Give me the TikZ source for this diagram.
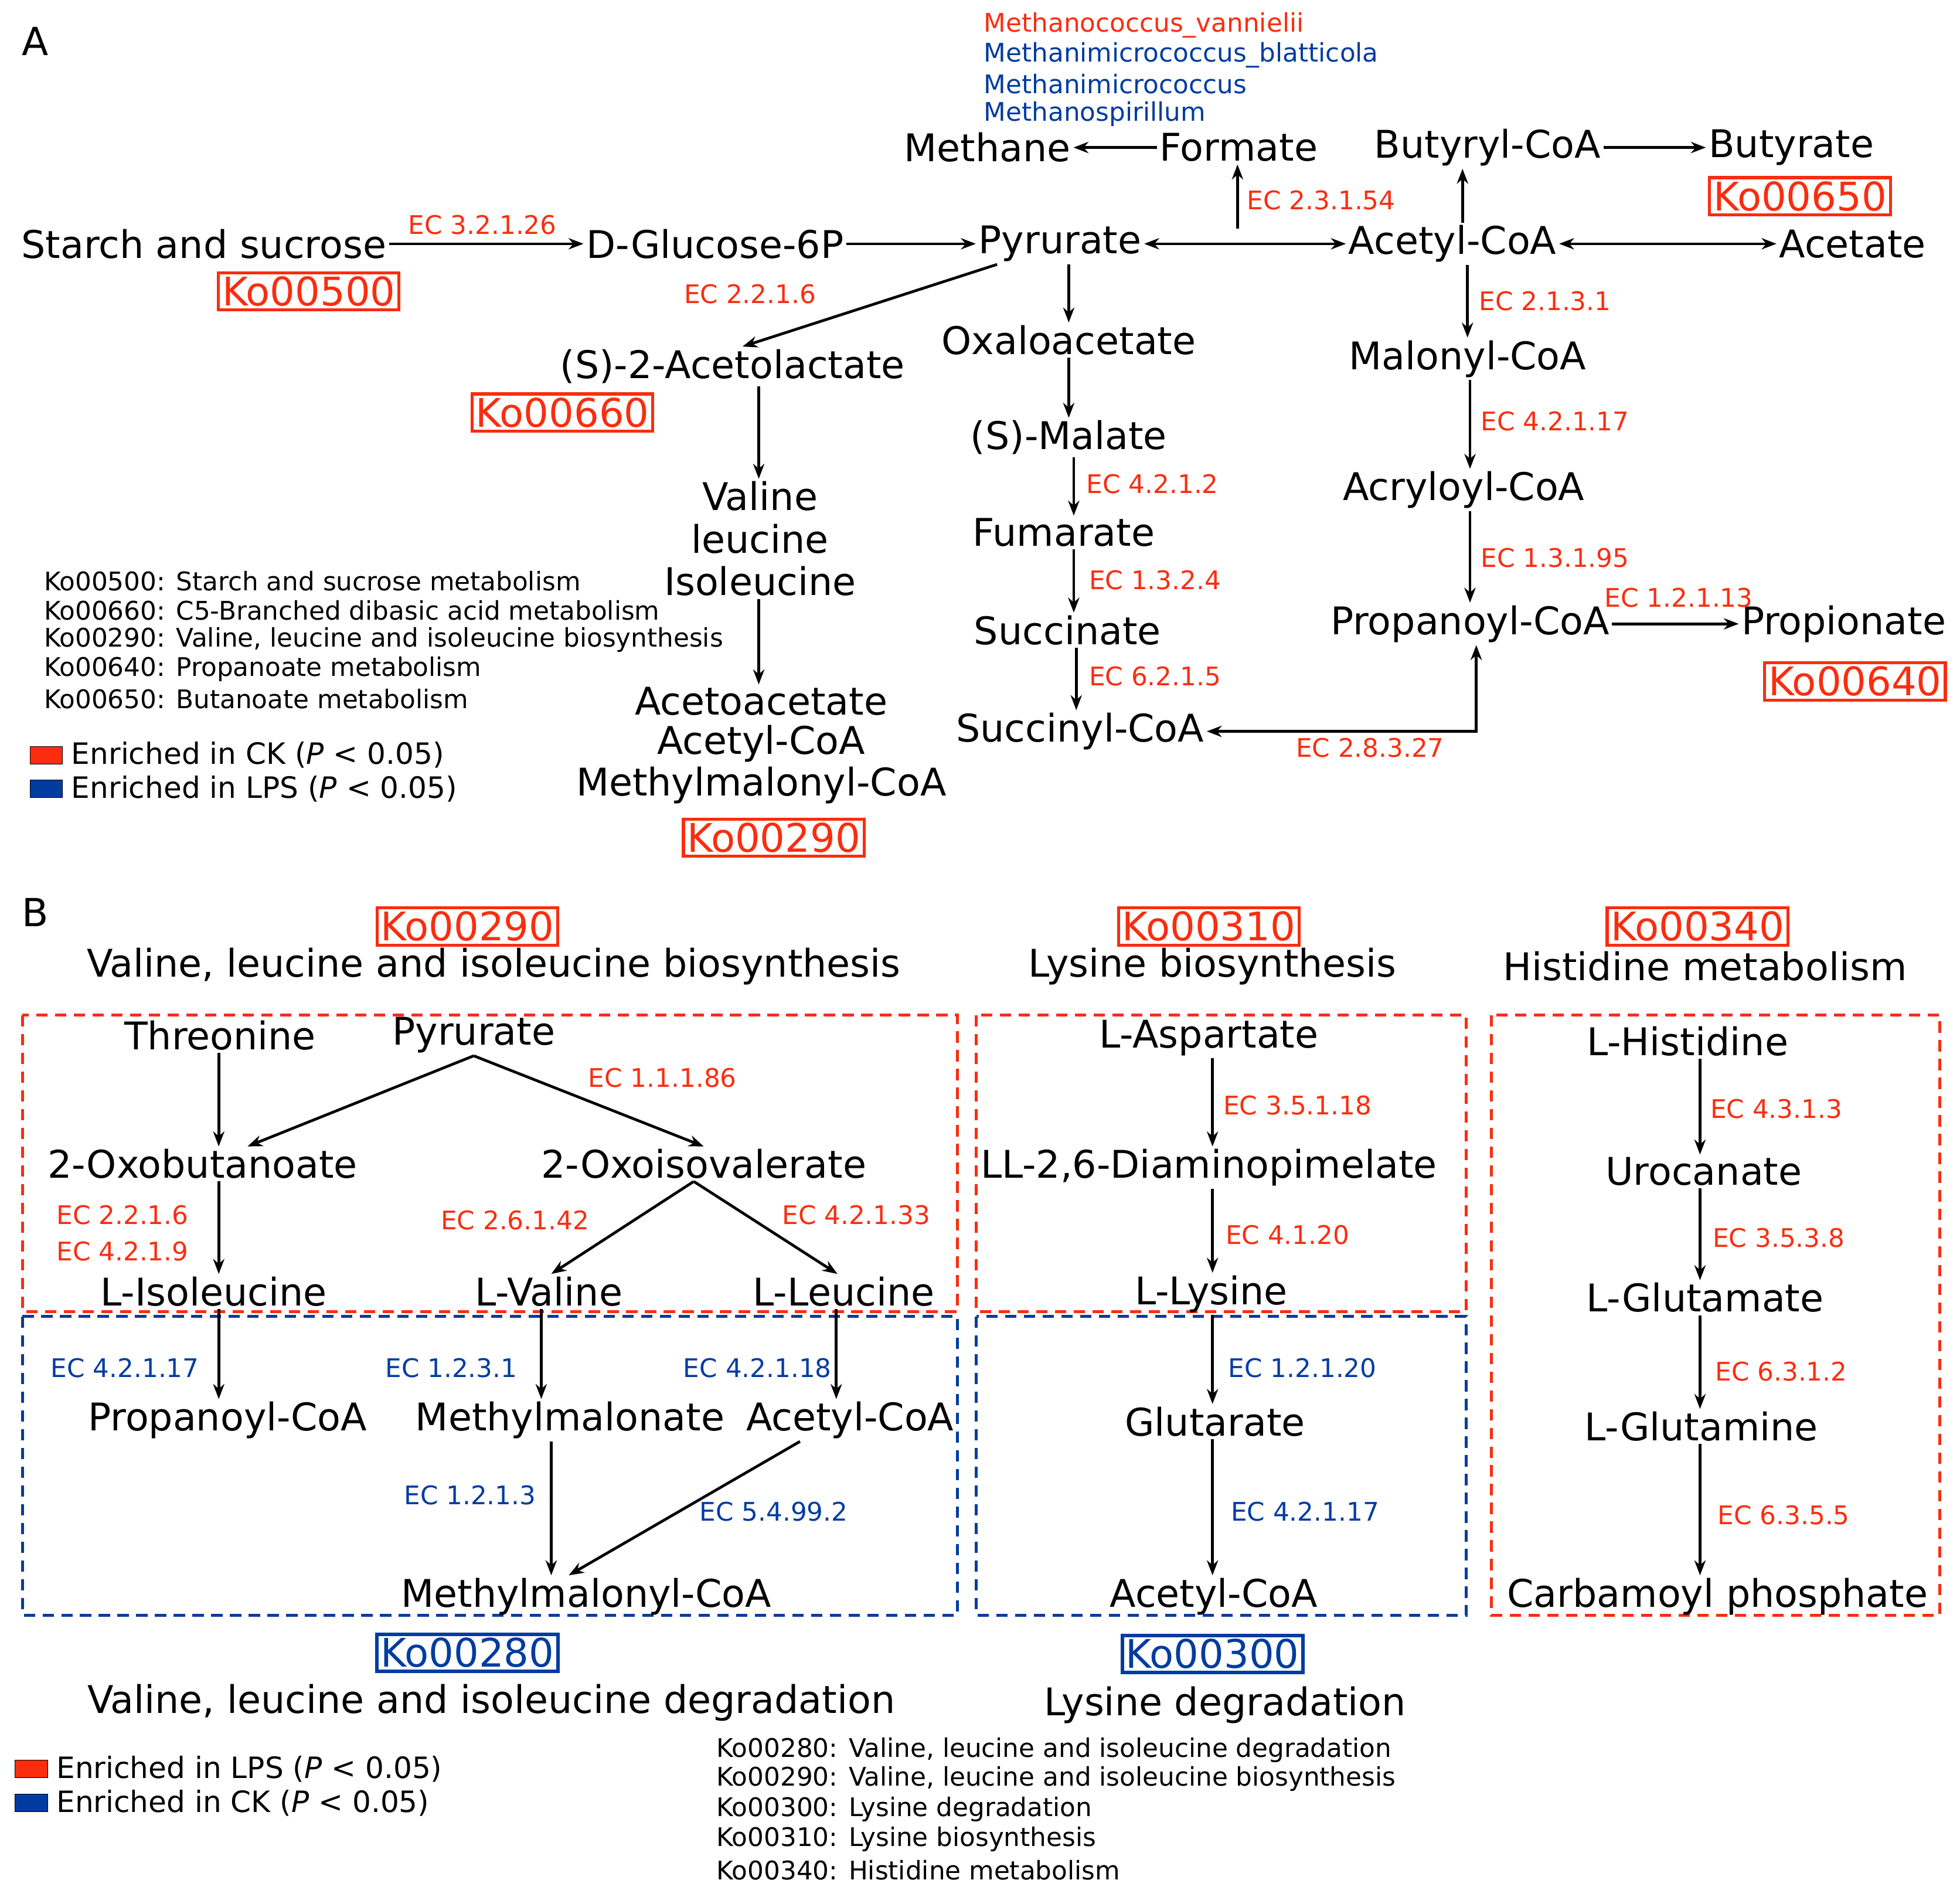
\documentclass[tikz,border=0pt]{standalone}
\usepackage{fontspec}
\setmainfont{DejaVu Sans}
\usetikzlibrary{arrows.meta}
\definecolor{cr}{RGB}{250,45,15}
\definecolor{cb}{RGB}{0,60,160}
\begin{document}
\begin{tikzpicture}[x=1pt,y=-1pt,
  m/.style={inner sep=2pt,font=\fontsize{30.5}{34}\selectfont},
  ec/.style={inner sep=1pt,font=\fontsize{20.5}{23}\selectfont,text=cr},
  ecb/.style={ec,text=cb},
  ko/.style={draw=cr,text=cr,line width=2.4pt,inner sep=3pt,font=\fontsize{31.5}{34}\selectfont},
  kob/.style={ko,draw=cb,text=cb,line width=2.8pt},
  lg/.style={inner sep=0pt,anchor=west,font=\fontsize{20.5}{23}\selectfont},
  lgb/.style={lg,font=\fontsize{23.5}{26}\selectfont},
  ar/.style={line width=2.2pt,-{Stealth[length=12pt,width=9pt]}},
  dar/.style={line width=2.2pt,{Stealth[length=12pt,width=9pt]}-{Stealth[length=12pt,width=9pt]}},
  rbox/.style={draw=cr,line width=2.4pt,dash pattern=on 9pt off 6pt},
  bbox/.style={rbox,draw=cb}]
\useasboundingbox (0,0) rectangle (1568,1517);
% ===== Panel A =====
\node[m,font=\fontsize{31}{34}\selectfont] (lA) at (28,33) {A};
\node[lg,text=cr] (s1) at (787,20) {Methanococcus\_vannielii};
\node[lg,text=cb] (s2) at (787,44) {Methanimicrococcus\_blatticola};
\node[lg,text=cb] (s3) at (787,67) {Methanimicrococcus};
\node[lg,text=cb] (s4) at (787,91) {Methanospirillum};
\node[m] (meth) at (790,118) {Methane};
\node[m] (form) at (991,118) {Formate};
\node[m] (buco) at (1190,118) {Butyryl-CoA};
\node[m] (buty) at (1433,118) {Butyrate};
\node[ko] (k650) at (1440,157) {Ko00650};
\node[m] (star) at (163,195) {Starch and sucrose};
\node[m] (glu) at (572,195) {D-Glucose-6P};
\node[m] (pyr) at (848,195) {Pyrurate};
\node[m] (acoa) at (1162,195) {Acetyl-CoA};
\node[m] (acet) at (1482,195) {Acetate};
\node[ko] (k500) at (247,233) {Ko00500};
\node[ec] (e1) at (386,180) {EC 3.2.1.26};
\node[ec] (e2) at (1057,160) {EC 2.3.1.54};
\node[ec] (e3) at (600,235) {EC 2.2.1.6};
\node[m] (acl) at (586,293) {(S)-2-Acetolactate};
\node[ko] (k660) at (450,330) {Ko00660};
\node[m] (oxa) at (855,272) {Oxaloacetate};
\node[m] (mal) at (855,350) {(S)-Malate};
\node[m] (fum) at (851,426) {Fumarate};
\node[m] (suc) at (854,504) {Succinate};
\node[m] (sco) at (864,585) {Succinyl-CoA};
\node[ec] (e4) at (922,387) {EC 4.2.1.2};
\node[ec] (e5) at (924,464) {EC 1.3.2.4};
\node[ec] (e6) at (924,541) {EC 6.2.1.5};
\node[m] (malo) at (1174,287) {Malonyl-CoA};
\node[ec] (e7) at (1236,241) {EC 2.1.3.1};
\node[m] (acry) at (1171,392) {Acryloyl-CoA};
\node[ec] (e8) at (1244,337) {EC 4.2.1.17};
\node[ec] (e9) at (1244,446) {EC 1.3.1.95};
\node[m] (prop) at (1176,499) {Propanoyl-CoA};
\node[m] (prot) at (1475,499) {Propionate};
\node[ec] (e10) at (1343,478) {EC 1.2.1.13};
\node[ko] (k640) at (1484,545) {Ko00640};
\node[ec] (e11) at (1096,598) {EC 2.8.3.27};
\node[m] (val) at (608,397) {Valine};
\node[m] (leu) at (608,431) {leucine};
\node[m] (ile) at (608,465) {Isoleucine};
\node[m] (aca) at (609,561) {Acetoacetate};
\node[m] (acb) at (609,595) {Acetyl-CoA};
\node[m] (mmA) at (609,628) {Methylmalonyl-CoA};
\node[ko] (k290a) at (619,670) {Ko00290};
\node[lg] (l1) at (35,465) {Ko00500: Starch and sucrose metabolism};
\node[lg] (l2) at (35,488) {Ko00660: C5-Branched dibasic acid metabolism};
\node[lg] (l3) at (35,512) {Ko00290: Valine, leucine and isoleucine biosynthesis};
\node[lg] (l4) at (35,535) {Ko00640: Propanoate metabolism};
\node[lg] (l5) at (35,559) {Ko00650: Butanoate metabolism};
\fill[cr,draw=black,line width=0.5pt] (24,597) rectangle (50,611);
\fill[cb,draw=black,line width=0.5pt] (24,624) rectangle (50,638);
\node[lgb] (lgA1) at (57,604) {Enriched in CK (\textit{P} < 0.05)};
\node[lgb] (lgA2) at (57,631) {Enriched in LPS (\textit{P} < 0.05)};
\coordinate (fm) at (990,195);
\draw[ar] (star.east) -- (glu.west);
\draw[ar] (glu.east) -- (pyr.west);
\draw[dar] (pyr.east) -- (acoa.west);
\draw[ar] ([yshift=12pt]fm) -- (fm |- form.south);
\draw[ar] (form.west) -- (meth.east);
\draw[ar] ([xshift=8pt]acoa.north) -- ([xshift=8pt]acoa.north |- buco.south);
\draw[ar] (buco.east) -- (buty.west);
\draw[dar] (acoa.east) -- (acet.west);
\draw[ar] ([xshift=17pt]pyr.south west) -- ([xshift=8pt]acl.north);
\draw[ar] ([xshift=7pt]pyr.south) -- ([xshift=7pt]pyr.south |- oxa.north);
\draw[ar] (oxa.south) -- (oxa.south |- mal.north);
\draw[ar] ([xshift=4pt]mal.south) -- ([xshift=4pt]mal.south |- fum.north);
\draw[ar] ([xshift=8pt]fum.south) -- ([xshift=8pt]fum.south |- suc.north);
\draw[ar] ([xshift=7pt]suc.south) -- ([xshift=7pt]suc.south |- sco.north);
\draw[ar] (acoa.south -| malo.south) -- (malo.north);
\draw[ar] ([xshift=2pt]malo.south) -- ([xshift=2pt]malo.south |- acry.north);
\draw[ar] ([xshift=5pt]acry.south) -- ([xshift=5pt]acry.south |- prop.north);
\draw[ar] (prop.east) -- (prot.west);
\draw[dar] (sco.east) -- (sco.east -| 1181,0) -- ([xshift=5pt]prop.south);
\draw[ar] ([xshift=21pt]acl.south) -- ([xshift=21pt]acl.south |- val.north);
\draw[ar] ([xshift=-1pt]ile.south) -- ([xshift=-1pt]ile.south |- aca.north);
% ===== Panel B =====
\node[m,font=\fontsize{31}{34}\selectfont] (lB) at (28,730) {B};
\node[ko] (k290) at (374,741) {Ko00290};
\node[m] (t290) at (395,773) {Valine, leucine and isoleucine biosynthesis};
\node[ko] (k310) at (967,741) {Ko00310};
\node[m] (t310) at (970,773) {Lysine biosynthesis};
\node[ko] (k340) at (1358,741) {Ko00340};
\node[m] (t340) at (1364,773) {Histidine metabolism};
\draw[rbox] (18,812) rectangle (766,1049);
\draw[rbox] (781,812) rectangle (1173,1049);
\draw[rbox] (1193,812) rectangle (1552,1292);
\draw[bbox] (18,1053) rectangle (766,1292);
\draw[bbox] (781,1053) rectangle (1173,1292);
\node[m] (thr) at (176,828) {Threonine};
\node[m] (pyr2) at (379,828) {Pyrurate};
\node[ec] (b1) at (530,862) {EC 1.1.1.86};
\node[m] (oxb) at (162,931) {2-Oxobutanoate};
\node[m] (oxi) at (563,931) {2-Oxoisovalerate};
\node[ec] (b2) at (98,972) {EC 2.2.1.6};
\node[ec] (b3) at (98,1001) {EC 4.2.1.9};
\node[ec] (b4) at (412,976) {EC 2.6.1.42};
\node[ec] (b5) at (685,972) {EC 4.2.1.33};
\node[m] (lile) at (171,1033) {L-Isoleucine};
\node[m] (lval) at (439,1033) {L-Valine};
\node[m] (lleu) at (675,1033) {L-Leucine};
\node[ecb] (b6) at (100,1094) {EC 4.2.1.17};
\node[m] (pco) at (182,1136) {Propanoyl-CoA};
\node[ecb] (b7) at (361,1094) {EC 1.2.3.1};
\node[m] (mma) at (456,1136) {Methylmalonate};
\node[ecb] (b8) at (606,1094) {EC 4.2.1.18};
\node[m] (acc) at (680,1136) {Acetyl-CoA};
\node[ecb] (b9) at (376,1196) {EC 1.2.1.3};
\node[ecb] (b10) at (619,1209) {EC 5.4.99.2};
\node[m] (mmc) at (469,1277) {Methylmalonyl-CoA};
\node[kob] (k280) at (374,1322) {Ko00280};
\node[m] (t280) at (393,1362) {Valine, leucine and isoleucine degradation};
\draw[ar] ([xshift=-1pt]thr.south) -- ([xshift=-1pt]thr.south |- oxb.north);
\draw[ar] (pyr2.south) -- ([xshift=36pt]oxb.north);
\draw[ar] (pyr2.south) -- (oxi.north);
\draw[ar] ([xshift=13pt]oxb.south) -- ([xshift=13pt]oxb.south |- lile.north);
\draw[ar] ([xshift=-8pt]oxi.south) -- ([xshift=2pt]lval.north);
\draw[ar] ([xshift=-8pt]oxi.south) -- ([xshift=-5pt]lleu.north);
\draw[ar] ([xshift=4pt]lile.south) -- ([xshift=4pt]lile.south |- pco.north);
\draw[ar] ([xshift=-6pt]lval.south) -- ([xshift=-6pt]lval.south |- mma.north);
\draw[ar] ([xshift=-6pt]lleu.south) -- ([xshift=-6pt]lleu.south |- acc.north);
\draw[ar] ([xshift=-15pt]mma.south) -- ([xshift=-15pt]mma.south |- mmc.north);
\draw[ar] ([xshift=-40pt]acc.south) -- ([xshift=-14pt]mmc.north);
\node[m] (asp) at (967,830) {L-Aspartate};
\node[ec] (c1) at (1038,884) {EC 3.5.1.18};
\node[m] (dap) at (967,934) {LL-2,6-Diaminopimelate};
\node[ec] (c2) at (1030,988) {EC 4.1.20};
\node[m] (lys) at (969,1035) {L-Lysine};
\node[ecb] (c3) at (1042,1094) {EC 1.2.1.20};
\node[m] (glt) at (972,1137) {Glutarate};
\node[ecb] (c4) at (1044,1209) {EC 4.2.1.17};
\node[m] (acd) at (971,1277) {Acetyl-CoA};
\node[kob] (k300) at (970,1323) {Ko00300};
\node[m] (t300) at (980,1364) {Lysine degradation};
\draw[ar] ([xshift=3pt]asp.south) -- ([xshift=3pt]asp.south |- dap.north);
\draw[ar] ([xshift=3pt]dap.south) -- ([xshift=3pt]dap.south |- lys.north);
\draw[ar] ([xshift=1pt]lys.south) -- ([xshift=1pt]lys.south |- glt.north);
\draw[ar] ([xshift=-2pt]glt.south) -- ([xshift=-2pt]glt.south |- acd.north);
\node[m] (his) at (1350,833) {L-Histidine};
\node[ec] (d1) at (1421,887) {EC 4.3.1.3};
\node[m] (uro) at (1363,937) {Urocanate};
\node[ec] (d2) at (1423,990) {EC 3.5.3.8};
\node[m] (glu2) at (1364,1038) {L-Glutamate};
\node[ec] (d3) at (1425,1097) {EC 6.3.1.2};
\node[m] (gln) at (1361,1141) {L-Glutamine};
\node[ec] (d4) at (1427,1212) {EC 6.3.5.5};
\node[m] (cp) at (1374,1277) {Carbamoyl phosphate};
\draw[ar] ([xshift=10pt]his.south) -- ([xshift=10pt]his.south |- uro.north);
\draw[ar] ([xshift=-3pt]uro.south) -- ([xshift=-3pt]uro.south |- glu2.north);
\draw[ar] ([xshift=-4pt]glu2.south) -- ([xshift=-4pt]glu2.south |- gln.north);
\draw[ar] ([xshift=-1pt]gln.south) -- ([xshift=-1pt]gln.south |- cp.north);
\fill[cr,draw=black,line width=0.5pt] (12,1408) rectangle (38,1422);
\fill[cb,draw=black,line width=0.5pt] (12,1435) rectangle (38,1449);
\node[lgb] (lgB1) at (45,1415) {Enriched in LPS (\textit{P} < 0.05)};
\node[lgb] (lgB2) at (45,1442) {Enriched in CK (\textit{P} < 0.05)};
\node[lg] (m1) at (573,1400) {Ko00280: Valine, leucine and isoleucine degradation};
\node[lg] (m2) at (573,1423) {Ko00290: Valine, leucine and isoleucine biosynthesis};
\node[lg] (m3) at (573,1447) {Ko00300: Lysine degradation};
\node[lg] (m4) at (573,1471) {Ko00310: Lysine biosynthesis};
\node[lg] (m5) at (573,1496) {Ko00340: Histidine metabolism};
\end{tikzpicture}
\end{document}
